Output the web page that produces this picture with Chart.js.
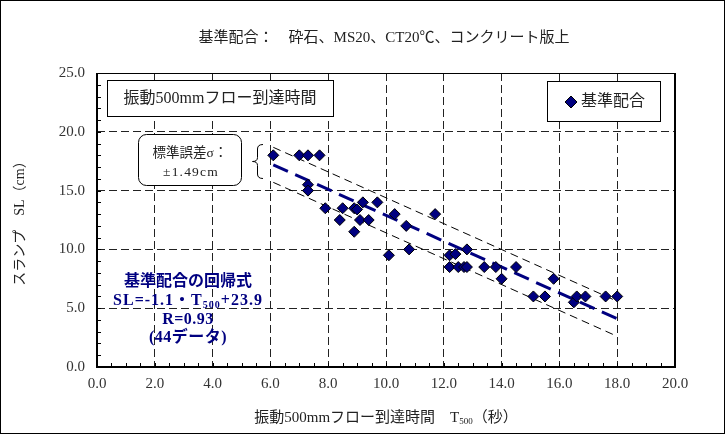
<!DOCTYPE html>
<html>
<head>
<meta charset="utf-8">
<script src="https://cdn.jsdelivr.net/npm/chart.js@4/dist/chart.umd.min.js"></script>
<style>
  html, body { margin: 0; padding: 0; background: #fff; }
  canvas { display: block; }
</style>
</head>
<body>
<canvas id="chart" width="725" height="434"></canvas>
<script>
// Vibration flow time to 500 mm (s) and measured slump (cm)
const t500  = [6.1, 7.0, 7.3, 7.7, 7.3, 7.3, 7.9, 8.5, 8.9, 9.0,
               9.2, 9.7, 8.4, 9.1, 9.4, 8.9, 10.3, 10.7, 10.8, 10.1,
               11.7, 12.2, 12.4, 12.8, 12.2, 12.5, 12.7, 12.8, 13.4, 13.8,
               14.0, 14.5, 15.1, 15.5, 15.8, 16.5, 16.6, 16.9, 17.6, 18.0];
const slump = [18.0, 18.0, 18.0, 18.0, 15.5, 15.0, 13.5, 13.5, 13.5, 13.4,
               14.0, 14.0, 12.5, 12.5, 12.5, 11.5, 13.0, 12.0, 10.0, 9.5,
               13.0, 9.5, 9.6, 10.0, 8.5, 8.5, 8.5, 8.5, 8.5, 8.5,
               7.5, 8.5, 6.0, 6.0, 7.5, 5.5, 6.0, 6.0, 6.0, 6.0];

// Regression SL = -1.1·T500 + 23.9, standard error ±1.49 cm
const fitSlope = -1.1;
const fitIntercept = 23.9;
const stdError = 1.49;
const fitRange = [6.1, 18.0];

const xTickValues = [0, 2, 4, 6, 8, 10, 12, 14, 16, 18, 20];
const yTickValues = [0, 5, 10, 15, 20, 25];
const xTickLabels = ['0.0', '2.0', '4.0', '6.0', '8.0', '10.0', '12.0', '14.0', '16.0', '18.0', '20.0'];
const yTickLabels = ['0.0', '5.0', '10.0', '15.0', '20.0', '25.0'];

const SERIF = "'Liberation Serif', 'Noto Sans CJK JP', serif";
const NAVY = '#000080';

const points = t500.map((x, i) => ({ x, y: slump[i] }));
const fitLine = offset => fitRange.map(x => ({ x, y: fitSlope * x + fitIntercept + offset }));

// Draw a row of text runs (for subscripts) centred on cx
function drawRuns(ctx, runs, cx, cy) {
  let total = 0;
  runs.forEach(r => { ctx.font = r.font; r.w = ctx.measureText(r.t).width; total += r.w; });
  let x = cx - total / 2;
  ctx.textAlign = 'left';
  ctx.textBaseline = 'middle';
  runs.forEach(r => { ctx.font = r.font; ctx.fillText(r.t, x, cy + (r.dy || 0)); x += r.w; });
}

function roundRect(ctx, x, y, w, h, r) {
  ctx.beginPath();
  ctx.moveTo(x + r, y);
  ctx.lineTo(x + w - r, y);
  ctx.arcTo(x + w, y, x + w, y + r, r);
  ctx.lineTo(x + w, y + h - r);
  ctx.arcTo(x + w, y + h, x + w - r, y + h, r);
  ctx.lineTo(x + r, y + h);
  ctx.arcTo(x, y + h, x, y + h - r, r);
  ctx.lineTo(x, y + r);
  ctx.arcTo(x, y, x + r, y, r);
  ctx.closePath();
}

const decor = {
  id: 'decor',
  beforeDraw(chart) {
    const ctx = chart.ctx;
    ctx.save();
    ctx.fillStyle = '#fff';
    ctx.fillRect(0, 0, chart.width, chart.height);
    ctx.restore();
  },
  afterDraw(chart) {
    const { ctx, chartArea: a, scales: { x, y } } = chart;
    ctx.save();

    // outer border
    ctx.strokeStyle = '#000';
    ctx.lineWidth = 1;
    ctx.strokeRect(0.5, 0.5, chart.width - 1, chart.height - 1);

    // minor ticks pointing into the plot
    ctx.beginPath();
    for (let v = 0; v <= 25; v += 1) {
      const py = Math.round(y.getPixelForValue(v)) + 0.5;
      ctx.moveTo(a.left, py); ctx.lineTo(a.left + 4, py);
    }
    for (let v = 0; v <= 20; v += 0.5) {
      const px = Math.round(x.getPixelForValue(v)) + 0.5;
      ctx.moveTo(px, a.bottom); ctx.lineTo(px, a.bottom - 4);
    }
    ctx.stroke();

    // plot frame
    ctx.lineWidth = 1;
    ctx.beginPath();
    ctx.moveTo(a.left, a.top + 0.5); ctx.lineTo(a.right, a.top + 0.5);
    ctx.stroke();
    ctx.lineWidth = 2;
    ctx.beginPath();
    ctx.moveTo(a.left, a.top); ctx.lineTo(a.left, a.bottom);
    ctx.lineTo(a.right, a.bottom); ctx.lineTo(a.right, a.top);
    ctx.stroke();

    // title
    ctx.fillStyle = '#222';
    ctx.font = '15px ' + SERIF;
    ctx.textAlign = 'center';
    ctx.textBaseline = 'middle';
    ctx.fillText('基準配合：　砕石、MS20、CT20℃、コンクリート版上', 384, 38);

    // axis titles
    drawRuns(ctx, [
      { t: '振動500mmフロー到達時間　T', font: '15px ' + SERIF },
      { t: '500', font: '9px ' + SERIF, dy: 4 },
      { t: '（秒）', font: '15px ' + SERIF }
    ], 386, 418);
    ctx.save();
    ctx.translate(20, 220);
    ctx.rotate(-Math.PI / 2);
    ctx.font = '14px ' + SERIF;
    ctx.textAlign = 'center';
    ctx.textBaseline = 'middle';
    ctx.fillText('スランプ　SL（cm）', 0, 0);
    ctx.restore();

    // caption box
    ctx.fillStyle = '#fff';
    ctx.fillRect(107, 80, 226, 36);
    ctx.lineWidth = 1;
    ctx.strokeStyle = '#000';
    ctx.strokeRect(107.5, 80.5, 226, 36);
    ctx.fillStyle = '#222';
    ctx.font = '16px ' + SERIF;
    ctx.textAlign = 'center';
    ctx.fillText('振動500mmフロー到達時間', 220, 99);

    // legend box
    ctx.fillStyle = '#fff';
    ctx.fillRect(547, 81, 113, 40);
    ctx.strokeRect(547.5, 81.5, 113, 40);
    ctx.beginPath();
    ctx.moveTo(571, 96); ctx.lineTo(577, 102); ctx.lineTo(571, 108); ctx.lineTo(565, 102);
    ctx.closePath();
    ctx.fillStyle = NAVY; ctx.fill(); ctx.stroke();
    ctx.fillStyle = '#222';
    ctx.font = '16px ' + SERIF;
    ctx.textAlign = 'left';
    ctx.fillText('基準配合', 581, 102);

    // standard error box
    roundRect(ctx, 138.5, 134.5, 103, 51, 8);
    ctx.fillStyle = '#fff'; ctx.fill();
    ctx.strokeStyle = '#000'; ctx.stroke();
    ctx.fillStyle = '#222';
    ctx.font = '13.5px ' + SERIF;
    ctx.textAlign = 'center';
    ctx.fillText('標準誤差σ：', 190, 153);
    ctx.letterSpacing = '1.2px';
    ctx.fillText('±' + stdError.toFixed(2) + 'cm', 191, 172);
    ctx.letterSpacing = '0px';

    // brace spanning the band
    ctx.beginPath();
    ctx.lineWidth = 1;
    ctx.moveTo(263, 144.5);
    ctx.quadraticCurveTo(257.5, 144.5, 257.5, 149);
    ctx.lineTo(257.5, 157.5);
    ctx.quadraticCurveTo(257.5, 161.5, 252.5, 161.5);
    ctx.quadraticCurveTo(257.5, 161.5, 257.5, 165.5);
    ctx.lineTo(257.5, 174);
    ctx.quadraticCurveTo(257.5, 178.5, 263, 178.5);
    ctx.stroke();

    // regression note
    ctx.fillStyle = NAVY;
    ctx.textAlign = 'center';
    ctx.textBaseline = 'middle';
    ctx.font = 'bold 16px ' + SERIF;
    ctx.fillText('基準配合の回帰式', 188, 282);
    ctx.letterSpacing = '1px';
    drawRuns(ctx, [
      { t: 'SL=-' + Math.abs(fitSlope).toFixed(1) + '・T', font: 'bold 16px ' + SERIF },
      { t: '500', font: 'bold 10px ' + SERIF, dy: 4 },
      { t: '+' + fitIntercept.toFixed(1), font: 'bold 16px ' + SERIF }
    ], 188, 301);
    ctx.letterSpacing = '0.5px';
    ctx.textAlign = 'center';
    ctx.font = 'bold 16px ' + SERIF;
    ctx.fillText('R=0.93', 188, 320);
    ctx.fillText('(44データ)', 188, 338);
    ctx.letterSpacing = '0px';

    ctx.restore();
  }
};

new Chart(document.getElementById('chart'), {
  type: 'scatter',
  data: {
    datasets: [
      {
        label: '基準配合',
        data: points,
        pointStyle: 'rectRot',
        pointRadius: 5.5,
        backgroundColor: NAVY,
        borderColor: '#000',
        borderWidth: 1
      },
      {
        label: '回帰式',
        data: fitLine(0),
        showLine: true,
        borderColor: NAVY,
        borderWidth: 3,
        borderDash: [16, 8],
        pointRadius: 0
      },
      {
        label: '+σ',
        data: fitLine(stdError),
        showLine: true,
        borderColor: '#000',
        borderWidth: 1,
        borderDash: [8, 5],
        pointRadius: 0
      },
      {
        label: '-σ',
        data: fitLine(-stdError),
        showLine: true,
        borderColor: '#000',
        borderWidth: 1,
        borderDash: [8, 5],
        pointRadius: 0
      }
    ]
  },
  options: {
    responsive: false,
    animation: false,
    layout: { padding: { left: 0, top: 73, right: 50, bottom: 0 } },
    plugins: { legend: { display: false }, tooltip: { enabled: false } },
    scales: {
      x: {
        type: 'linear',
        min: 0, max: 20,
        afterBuildTicks: s => { s.ticks = xTickValues.map(v => ({ value: v })); },
        afterFit: s => { s.height = 67; },
        ticks: {
          callback: (v) => xTickLabels[xTickValues.indexOf(v)],
          font: { family: SERIF, size: 15 },
          color: '#333',
          padding: 8,
          maxRotation: 0,
          autoSkip: false
        },
        grid: { color: '#222', lineWidth: 1, drawTicks: false },
        border: { display: false, dash: [8, 4] }
      },
      y: {
        type: 'linear',
        min: 0, max: 25,
        afterBuildTicks: s => { s.ticks = yTickValues.map(v => ({ value: v })); },
        afterFit: s => { s.width = 97; },
        ticks: {
          callback: (v) => yTickLabels[yTickValues.indexOf(v)],
          font: { family: SERIF, size: 15 },
          color: '#333',
          padding: 12,
          autoSkip: false
        },
        grid: { color: '#222', lineWidth: 1, drawTicks: false },
        border: { display: false, dash: [8, 4] }
      }
    }
  },
  plugins: [decor]
});
</script>
</body>
</html>
